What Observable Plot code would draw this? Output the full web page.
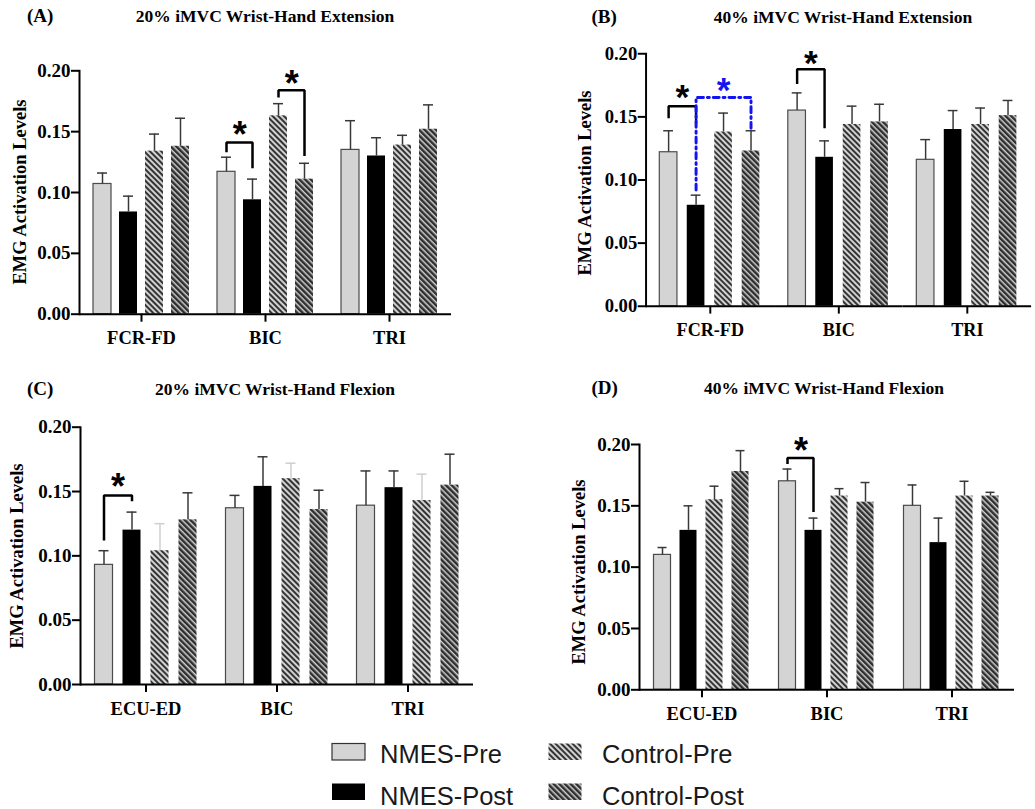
<!DOCTYPE html>
<html><head><meta charset="utf-8">
<script src="https://cdn.jsdelivr.net/npm/d3@7"></script>
<script src="https://cdn.jsdelivr.net/npm/@observablehq/plot@0.6"></script>
<style>
html,body{margin:0;padding:0;width:1035px;height:809px;overflow:hidden;background:#fff;}
.pnl{position:absolute;}
#overlay{position:absolute;left:0;top:0;pointer-events:none;}
.serif{font-family:"Liberation Serif","Times New Roman",serif;font-weight:bold;fill:#000;}
.sans{font-family:"Liberation Sans",Arial,sans-serif;fill:#1a1a1a;}
</style></head><body>
<div id="root"></div>
<svg id="overlay" width="1035" height="809">
<defs>
<pattern id="hatchLight" patternUnits="userSpaceOnUse" width="4" height="4" patternTransform="rotate(45)">
<rect width="4" height="4" fill="#d2d2d2"/><rect width="4" height="2" fill="#343434"/></pattern>
<pattern id="hatchDark" patternUnits="userSpaceOnUse" width="4" height="4" patternTransform="rotate(45)">
<rect width="4" height="4" fill="#2e2e2e"/><rect width="4" height="1.5" fill="#cfcfcf"/></pattern>
</defs>
</svg>
<script>
// ---------- data ----------
const series = ["NMES-Pre", "NMES-Post", "Control-Pre", "Control-Post"];
const musclesExt = ["FCR-FD", "BIC", "TRI"];
const musclesFlex = ["ECU-ED", "BIC", "TRI"];
const yTicks = [0, 0.05, 0.10, 0.15, 0.20];

// (A) 20% iMVC Wrist-Hand Extension  rows: muscles, cols: series
const meanA = [[0.107, 0.084, 0.134, 0.138], [0.117, 0.094, 0.163, 0.111], [0.135, 0.130, 0.139, 0.152]];
const sdA   = [[0.009, 0.013, 0.014, 0.023], [0.012, 0.017, 0.010, 0.013], [0.024, 0.015, 0.008, 0.020]];
// (B) 40% iMVC Wrist-Hand Extension
const meanB = [[0.122, 0.080, 0.138, 0.123], [0.155, 0.118, 0.144, 0.146], [0.116, 0.140, 0.144, 0.151]];
const sdB   = [[0.017, 0.008, 0.015, 0.016], [0.014, 0.013, 0.0145, 0.014], [0.016, 0.015, 0.013, 0.012]];
// (C) 20% iMVC Wrist-Hand Flexion
const meanC = [[0.093, 0.120, 0.104, 0.128], [0.137, 0.154, 0.160, 0.136], [0.139, 0.153, 0.143, 0.155]];
const sdC   = [[0.011, 0.014, 0.021, 0.021], [0.010, 0.023, 0.012, 0.015], [0.027, 0.013, 0.0205, 0.024]];
// (D) 40% iMVC Wrist-Hand Flexion
const meanD = [[0.110, 0.130, 0.155, 0.178], [0.170, 0.130, 0.158, 0.153], [0.150, 0.120, 0.158, 0.158]];
const sdD   = [[0.006, 0.020, 0.011, 0.017], [0.010, 0.010, 0.006, 0.016], [0.017, 0.020, 0.012, 0.003]];

// significance brackets (y values in data units)
const sigA = [
  {muscle: "BIC", from: "NMES-Pre", to: "NMES-Post", top: 0.141, left: 0.133, right: 0.120, star: 0.154, blue: false},
  {muscle: "BIC", from: "Control-Pre", to: "Control-Post", top: 0.184, left: 0.178, right: 0.130, star: 0.196, blue: false}
];
const sigB = [
  {muscle: "FCR-FD", from: "NMES-Pre", to: "NMES-Post", top: 0.1585, left: 0.149, right: 0.145, star: 0.172, blue: false},
  {muscle: "FCR-FD", from: "NMES-Post", to: "Control-Post", top: 0.1654, left: 0.092, right: 0.141, star: 0.178, blue: true},
  {muscle: "BIC", from: "NMES-Pre", to: "NMES-Post", top: 0.1878, left: 0.176, right: 0.141, star: 0.1995, blue: false}
];
const sigC = [
  {muscle: "ECU-ED", from: "NMES-Pre", to: "NMES-Post", top: 0.147, left: 0.112, right: 0.1425, star: 0.160, blue: false}
];
const sigD = [
  {muscle: "BIC", from: "NMES-Pre", to: "NMES-Post", top: 0.189, left: 0.184, right: 0.145, star: 0.202, blue: false}
];

// ---------- styles ----------
const fills = {"NMES-Pre": "#d4d4d4", "NMES-Post": "#000000", "Control-Pre": "url(#hatchLight)", "Control-Post": "url(#hatchDark)"};
const BLUE = "#1414f0";

function panel(cfg) {
  const rows = cfg.muscles.flatMap((m, i) => series.map((s, j) => ({muscle: m, series: s, mean: cfg.mean[i][j], sd: cfg.sd[i][j]})));
  const pts = cfg.sig.flatMap((b, k) => [
    {id: k, blue: b.blue, muscle: b.muscle, s: b.from, y: b.left},
    {id: k, blue: b.blue, muscle: b.muscle, s: b.from, y: b.top},
    {id: k, blue: b.blue, muscle: b.muscle, s: b.to, y: b.top},
    {id: k, blue: b.blue, muscle: b.muscle, s: b.to, y: b.right}
  ]);
  const facetW = (cfg.W - cfg.ml - cfg.mr) / 3;
  const step = facetW / (4 - cfg.pi + 2 * cfg.po);
  const lightErr = cfg.lightErr || [];
  const marks = [];
  for (const s of series) {
    marks.push(Plot.barY(rows, {filter: d => d.series === s, fx: "muscle", x: "series", y: "mean",
      fill: fills[s], stroke: s === "NMES-Pre" ? "#4a4a4a" : "none", strokeWidth: 1.2}));
  }
  const errOpts = (light) => ({filter: d => lightErr.includes(d.series) === light, fx: "muscle", x: "series"});
  for (const light of [false, true]) {
    const col = light ? "#cfcfcf" : "#383838";
    marks.push(Plot.ruleX(rows, {...errOpts(light), y1: "mean", y2: d => d.mean + d.sd, stroke: col, strokeWidth: 1.5}));
    marks.push(Plot.tickY(rows, {...errOpts(light), y: d => d.mean + d.sd, stroke: col, strokeWidth: 1.5, insetLeft: 4, insetRight: 4}));
  }
  marks.push(Plot.line(pts, {filter: d => !d.blue, fx: "muscle", x: "s", y: "y", z: "id", stroke: "#000", strokeWidth: 2.5, strokeLinejoin: "miter", strokeLinecap: "butt"}));
  marks.push(Plot.line(pts, {filter: d => d.blue, fx: "muscle", x: "s", y: "y", z: "id", stroke: BLUE, strokeWidth: 3, strokeDasharray: "6 4 2 4", strokeLinejoin: "miter"}));
  for (const b of cfg.sig) {
    const dx = (series.indexOf(b.to) - series.indexOf(b.from)) * step / 2;
    marks.push(Plot.text([b], {fx: "muscle", x: "from", y: "star", text: () => "*", dx, dy: 9,
      fill: b.blue ? BLUE : "#000", fontSize: 36, fontWeight: "bold", fontFamily: "Liberation Sans, Arial, sans-serif"}));
  }
  marks.push(Plot.ruleY([0], {strokeWidth: 2}));
  marks.push(Plot.frame({anchor: "left", facetAnchor: "left", strokeWidth: 2}));
  marks.push(Plot.axisY({ticks: yTicks, tickFormat: d3.format(".2f"), tickSize: 8, tickPadding: 1, strokeWidth: 2, label: null, fontSize: 19}));
  marks.push(Plot.axisFx({anchor: "bottom", tickSize: 8, tickPadding: 9, strokeWidth: 2, label: null, fontSize: 18.5}));

  const svg = Plot.plot({
    width: cfg.W, height: cfg.H,
    marginLeft: cfg.ml, marginRight: cfg.mr, marginTop: cfg.mt, marginBottom: cfg.mb,
    fx: {domain: cfg.muscles, padding: 0, label: null},
    x: {domain: series, paddingInner: cfg.pi, paddingOuter: cfg.po, axis: null},
    y: {domain: [0, 0.2]},
    style: {fontFamily: "'Liberation Serif', 'Times New Roman', serif", fontWeight: "bold", color: "#000", background: "transparent", overflow: "visible"},
    marks
  });
  const div = document.createElement("div");
  div.className = "pnl";
  div.style.left = cfg.left + "px";
  div.style.top = cfg.top + "px";
  div.appendChild(svg);
  document.getElementById("root").appendChild(div);
}

panel({muscles: musclesExt, mean: meanA, sd: sdA, sig: sigA, left: 0, top: 0, W: 520, H: 360, ml: 79, mr: 69, mt: 70.3, mb: 46.3, pi: 0.316, po: 0.516});
panel({muscles: musclesExt, mean: meanB, sd: sdB, sig: sigB, left: 520, top: 0, W: 525, H: 360, ml: 128, mr: 4, mt: 54.3, mb: 48.3, pi: 0.346, po: 0.512});
panel({muscles: musclesFlex, mean: meanC, sd: sdC, sig: sigC, left: 0, top: 360, W: 520, H: 370, ml: 79.5, mr: 47.5, mt: 66.7, mb: 46, pi: 0.35, po: 0.506, lightErr: ["Control-Pre"]});
panel({muscles: musclesFlex, mean: meanD, sd: sdD, sig: sigD, left: 520, top: 360, W: 515, H: 370, ml: 118.5, mr: 20, mt: 84, mb: 40.7, pi: 0.33, po: 0.4975});

// ---------- text overlay ----------
const ov = d3.select("#overlay");
const panelLabels = [
  {tag: "(A)", title: "20% iMVC Wrist-Hand Extension", tx: 27, cx: 265, by: 22, ylx: 26, yly: 192},
  {tag: "(B)", title: "40% iMVC Wrist-Hand Extension", tx: 591.5, cx: 843, by: 23, ylx: 591, yly: 183},
  {tag: "(C)", title: "20% iMVC Wrist-Hand Flexion", tx: 27, cx: 275, by: 395, ylx: 23, yly: 556},
  {tag: "(D)", title: "40% iMVC Wrist-Hand Flexion", tx: 591.5, cx: 824, by: 394, ylx: 585, yly: 572}
];
const yLabel = "EMG Activation Levels";
for (const p of panelLabels) {
  ov.append("text").attr("class", "serif").attr("x", p.tx).attr("y", p.by).attr("font-size", 19).text(p.tag);
  ov.append("text").attr("class", "serif").attr("x", p.cx).attr("y", p.by).attr("font-size", 17.5).attr("text-anchor", "middle").text(p.title);
  ov.append("text").attr("class", "serif").attr("transform", `translate(${p.ylx},${p.yly}) rotate(-90)`).attr("font-size", 18.5).attr("text-anchor", "middle").text(yLabel);
}
// legend
const legendItems = [
  {name: "NMES-Pre", sx: 332, sy: 743.5, tx: 380, ty: 763},
  {name: "NMES-Post", sx: 332, sy: 783.5, tx: 380, ty: 805},
  {name: "Control-Pre", sx: 548.5, sy: 743.5, tx: 602, ty: 763},
  {name: "Control-Post", sx: 548.5, sy: 783.5, tx: 602, ty: 805}
];
for (const it of legendItems) {
  ov.append("rect").attr("x", it.sx).attr("y", it.sy).attr("width", 33).attr("height", 16.5)
    .attr("fill", fills[it.name]).attr("stroke", it.name === "NMES-Pre" ? "#333" : "none").attr("stroke-width", 1.2);
  ov.append("text").attr("class", "sans").attr("x", it.tx).attr("y", it.ty).attr("font-size", 25.5).text(it.name);
}
</script>
</body></html>
